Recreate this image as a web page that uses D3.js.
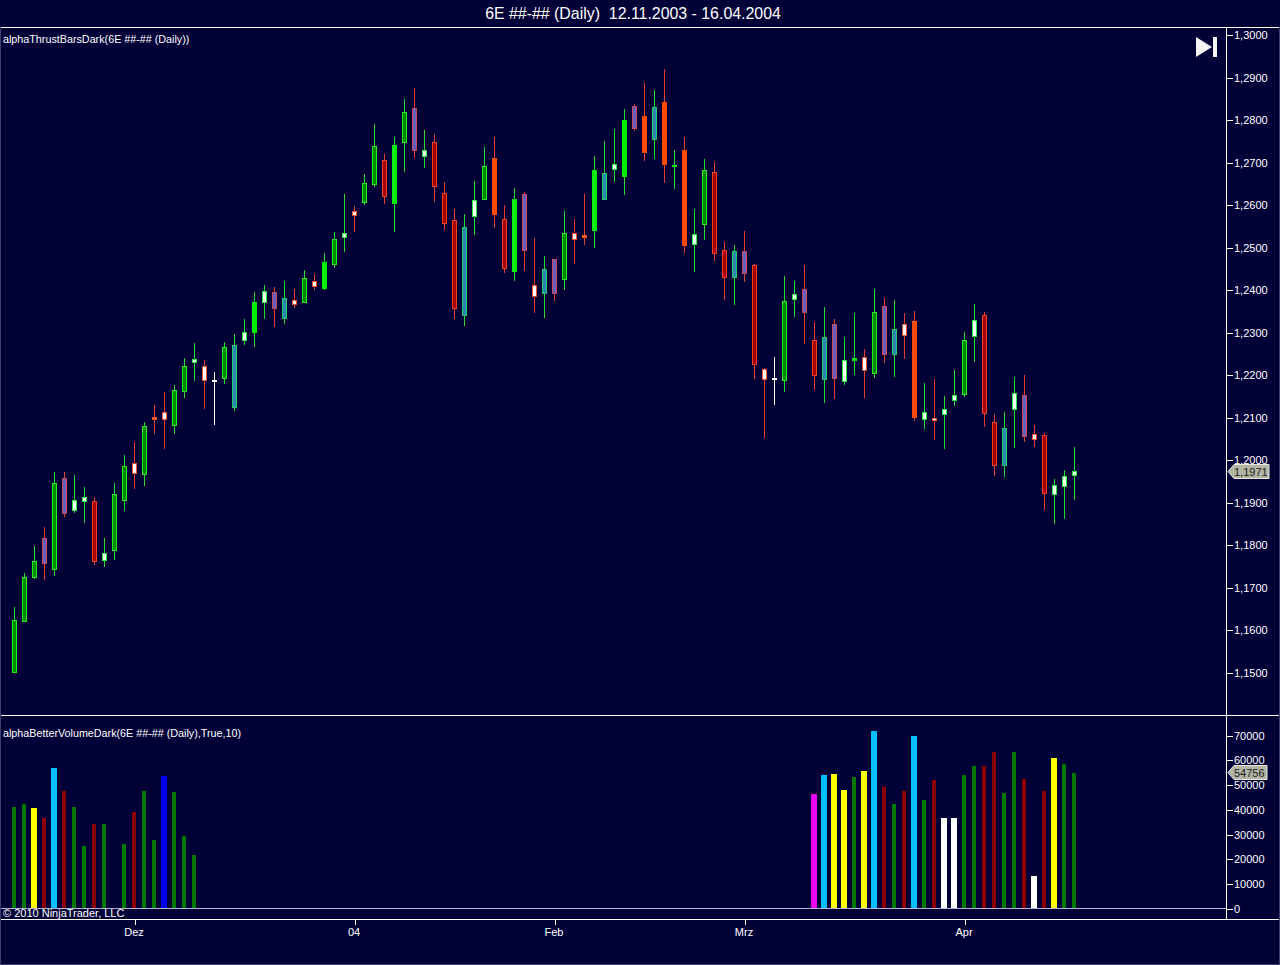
<!DOCTYPE html>
<html><head><meta charset="utf-8">
<script src="https://cdn.jsdelivr.net/npm/d3@7/dist/d3.min.js"></script>
<style>html,body{margin:0;padding:0;background:#000036;overflow:hidden}svg{display:block}text{font-family:"Liberation Sans",Arial,sans-serif}</style>
</head><body><svg id="c" width="1280" height="965"></svg>
<script>
const chartTitle = "6E ##-## (Daily)  12.11.2003 - 16.04.2004";
const priceLabel = "alphaThrustBarsDark(6E ##-## (Daily))";
const volumeLabel = "alphaBetterVolumeDark(6E ##-## (Daily),True,10)";
const copyrightText = "© 2010 NinjaTrader, LLC";
const monthTickIndex = [12,34,54,73,95];
const monthTickLabels = ["Dez","04","Feb","Mrz","Apr"];
const priceTicks = [1.15,1.16,1.17,1.18,1.19,1.20,1.21,1.22,1.23,1.24,1.25,1.26,1.27,1.28,1.29,1.30];
const volumeTicks = [0,10000,20000,30000,40000,50000,60000,70000];
const lastPrice = 1.1971;
const lastVolume = 54756;

const highs = [1.1654,1.1734,1.1798,1.1842,1.1972,1.1972,1.1965,1.1937,1.1913,1.1817,1.1946,1.2012,1.2042,1.2089,1.2129,1.2160,1.2177,1.2240,1.2275,1.2235,1.2207,1.2278,1.2297,1.2332,1.2395,1.2412,1.2407,1.2421,1.2402,1.2447,1.2438,1.2487,1.2536,1.2626,1.2598,1.2673,1.2791,1.2720,1.2760,1.2849,1.2875,1.2776,1.2767,1.2654,1.2591,1.2579,1.2656,1.2737,1.2760,1.2600,1.2640,1.2631,1.2522,1.2480,1.2473,1.2586,1.2567,1.2626,1.2715,1.2751,1.2779,1.2826,1.2838,1.2887,1.2871,1.2920,1.2729,1.2760,1.2591,1.2708,1.2701,1.2513,1.2506,1.2539,1.2461,1.2217,1.2242,1.2433,1.2421,1.2459,1.2325,1.2360,1.2332,1.2289,1.2346,1.2261,1.2402,1.2381,1.2377,1.2346,1.2351,1.2181,1.2191,1.2151,1.2212,1.2301,1.2367,1.2348,1.2108,1.2113,1.2195,1.2200,1.2082,1.2064,1.1955,1.1976,1.2031];
const bodyTops = [1.1624,1.1725,1.1762,1.1817,1.1946,1.1958,1.1906,1.1913,1.1904,1.1781,1.1920,1.1986,1.1993,1.2080,1.2101,1.2113,1.2165,1.2221,1.2238,1.2221,1.2189,1.2266,1.2271,1.2301,1.2372,1.2398,1.2395,1.2381,1.2377,1.2428,1.2421,1.2466,1.2520,1.2534,1.2586,1.2652,1.2739,1.2706,1.2741,1.2819,1.2828,1.2729,1.2748,1.2628,1.2565,1.2548,1.2612,1.2692,1.2711,1.2567,1.2614,1.2626,1.2412,1.2449,1.2473,1.2534,1.2534,1.2529,1.2682,1.2675,1.2697,1.2800,1.2833,1.2810,1.2831,1.2842,1.2694,1.2729,1.2532,1.2682,1.2678,1.2494,1.2492,1.2492,1.2459,1.2214,1.2192,1.2374,1.2391,1.2402,1.2282,1.2289,1.2320,1.2235,1.2240,1.2242,1.2348,1.2362,1.2308,1.2320,1.2327,1.2113,1.2099,1.2120,1.2153,1.2282,1.2329,1.2341,1.2089,1.2075,1.2158,1.2153,1.2061,1.2059,1.1941,1.1962,1.1974];
const bodyBottoms = [1.1501,1.1621,1.1725,1.1758,1.1744,1.1875,1.1882,1.1904,1.1762,1.1765,1.1788,1.1906,1.1969,1.1967,1.2097,1.2097,1.2082,1.2162,1.2231,1.2188,1.2187,1.2193,1.2125,1.2282,1.2301,1.2372,1.2358,1.2334,1.2367,1.2372,1.2409,1.2405,1.2461,1.2525,1.2576,1.2607,1.2649,1.2621,1.2605,1.2748,1.2729,1.2715,1.2645,1.2558,1.2358,1.2341,1.2574,1.2614,1.2579,1.2452,1.2445,1.2494,1.2386,1.2393,1.2393,1.2426,1.2520,1.2525,1.2541,1.2614,1.2685,1.2668,1.2781,1.2725,1.2755,1.2697,1.2692,1.2506,1.2508,1.2555,1.2487,1.2431,1.2431,1.2440,1.2226,1.2191,1.2190,1.2188,1.2379,1.2348,1.2200,1.2191,1.2193,1.2186,1.2235,1.2212,1.2205,1.2249,1.2249,1.2294,1.2101,1.2097,1.2094,1.2108,1.2141,1.2155,1.2292,1.2111,1.1988,1.1988,1.2120,1.2057,1.2049,1.1922,1.1920,1.1939,1.1965];
const lows = [1.1499,1.1621,1.1720,1.1718,1.1727,1.1866,1.1875,1.1852,1.1753,1.1748,1.1765,1.1880,1.1932,1.1939,1.2061,1.2026,1.2061,1.2146,1.2186,1.2120,1.2082,1.2179,1.2115,1.2271,1.2266,1.2332,1.2313,1.2320,1.2358,1.2372,1.2400,1.2400,1.2452,1.2489,1.2536,1.2600,1.2642,1.2602,1.2536,1.2678,1.2711,1.2687,1.2607,1.2541,1.2332,1.2315,1.2529,1.2614,1.2546,1.2440,1.2421,1.2445,1.2346,1.2334,1.2374,1.2400,1.2461,1.2506,1.2499,1.2612,1.2654,1.2624,1.2774,1.2704,1.2708,1.2652,1.2638,1.2487,1.2442,1.2518,1.2468,1.2377,1.2365,1.2419,1.2191,1.2052,1.2129,1.2160,1.2336,1.2273,1.2165,1.2134,1.2144,1.2177,1.2200,1.2146,1.2193,1.2228,1.2195,1.2238,1.2092,1.2073,1.2047,1.2026,1.2127,1.2148,1.2231,1.2078,1.1962,1.1960,1.2028,1.2042,1.2031,1.1882,1.1849,1.1861,1.1906];
const candleKinds = ["g","g","g","p","g","p","w","w","r","w","g","g","x","g","y","x","g","g","w","x","d","g","t","w","G","w","p","t","x","g","x","G","g","w","x","g","g","r","G","g","p","w","r","r","r","t","w","g","O","r","G","p","x","t","p","g","x","y","G","t","w","G","p","O","t","O","G","O","w","g","r","r","t","p","r","x","d","g","w","p","r","t","p","w","G","x","g","p","t","x","O","w","x","w","w","g","w","r","r","t","w","p","x","r","w","w","w"];

const earlyVolumeBars = [0,1,2,3,4,5,6,7,8,9,11,12,13,14,15,16,17,18];
const earlyVolumes = [41100,42300,40700,36700,56800,47600,41100,25400,34300,34300,26200,39100,47600,27800,53600,47200,29400,21800];
const earlyVolumeKinds = ["g","g","y","r","c","r","g","g","r","g","g","r","g","g","b","g","g","g"];
const lateVolumeFirstBar = 80;
const lateVolumes = [46300,54000,54400,48000,53200,55600,71700,49200,42300,47600,69700,43900,52000,36700,36700,54000,57600,57600,63300,46700,63300,52400,13300,47600,60900,58400,54756];
const lateVolumeKinds = ["m","c","y","y","g","y","c","r","g","r","c","g","r","w","w","g","g","r","r","g","g","r","w","r","y","g","g"];

const candleStyle = {
 g:{fill:"#008800",stroke:"#22ee22",wick:"#22dd33"},
 G:{fill:"#00ee00",stroke:"#00ee00",wick:"#22dd33"},
 w:{fill:"#f4fff4",stroke:"#22ee44",wick:"#22dd33"},
 t:{fill:"#2c86b4",stroke:"#22cc66",wick:"#22dd33"},
 r:{fill:"#a80000",stroke:"#f04020",wick:"#e04030"},
 O:{fill:"#ff4a00",stroke:"#ff4a00",wick:"#e04030"},
 y:{fill:"#ff6020",stroke:"#ff5020",wick:"#e04030"},
 x:{fill:"#fff8f4",stroke:"#f05030",wick:"#e04030"},
 p:{fill:"#6460c0",stroke:"#c84858",wick:"#e04030"},
 d:{fill:"#ffffff",stroke:"#ffffff",wick:"#ffffff"}
};
const volumeStyle = {
 g:{fill:"#007a00",wide:false}, r:{fill:"#8b0000",wide:false}, y:{fill:"#ffff00",wide:true},
 c:{fill:"#00bfff",wide:true}, b:{fill:"#0000ee",wide:true}, m:{fill:"#ee00ee",wide:true}, w:{fill:"#ffffff",wide:true}
};

const svg = d3.select("#c");
const bg = "#000036";
svg.append("rect").attr("width",1280).attr("height",965).attr("fill",bg);

const x = d3.scaleLinear().domain([0,106]).range([14.5,1074.5]);
const y = d3.scaleLinear().domain([1.15,1.30]).range([672.5,35]);
const v = d3.scaleLinear().domain([0,70000]).range([909,735.5]);
const snap = n => Math.round(n)+0.5;

// frame
const frame = svg.append("g").attr("shape-rendering","crispEdges").attr("stroke","#fff").attr("fill","none");
[[0,27.5,1280,27.5],[0,715.5,1280,715.5],[0,919.5,1280,919.5],[1226.5,27.5,1226.5,919.5]].forEach(l=>
  frame.append("line").attr("x1",l[0]).attr("y1",l[1]).attr("x2",l[2]).attr("y2",l[3]));
frame.append("line").attr("x1",0).attr("y1",908.5).attr("x2",1226).attr("y2",908.5).attr("stroke","#b0b0d0");
[[0.5,27,0.5,964.5],[1279.5,27,1279.5,964.5],[0,964.5,1280,964.5]].forEach(l=>
  frame.append("line").attr("x1",l[0]).attr("y1",l[1]).attr("x2",l[2]).attr("y2",l[3]).attr("stroke","#404070"));

// text
svg.append("text").attr("x",633).attr("y",18.5).attr("text-anchor","middle").attr("fill","#fff").attr("font-size",15.9).style("white-space","pre").text(chartTitle);
svg.append("text").attr("x",3).attr("y",43).attr("fill","#fff").attr("font-size",10.75).text(priceLabel);
svg.append("text").attr("x",3).attr("y",737).attr("fill","#fff").attr("font-size",10.75).text(volumeLabel);
svg.append("text").attr("x",3).attr("y",917).attr("fill","#fff").attr("font-size",11).text(copyrightText);

// icon
const icon = svg.append("g").attr("fill","#f4f4f4");
icon.append("path").attr("d",d3.line()([[1196,37],[1212,47],[1196,57]])+"Z");
icon.append("rect").attr("x",1213).attr("y",37).attr("width",4).attr("height",20);

// axes
function styleAxis(g,size){
  g.select(".domain").remove();
  g.selectAll("line").attr("stroke","#fff").attr("shape-rendering","crispEdges");
  g.selectAll("text").attr("fill","#fff").attr("font-size",size).attr("font-family",'"Liberation Sans",Arial,sans-serif');
}
const yAxis = d3.axisRight(y).tickValues(priceTicks).tickSize(6).tickPadding(1).tickFormat(d=>d3.format(".4f")(d).replace(".",","));
svg.append("g").attr("transform","translate(1227,0)").call(yAxis).call(styleAxis,11);
const vAxis = d3.axisRight(v).tickValues(volumeTicks).tickSize(6).tickPadding(1).tickFormat(d3.format("d"));
svg.append("g").attr("transform","translate(1227,0)").call(vAxis).call(styleAxis,11);
const xAxis = d3.axisBottom(x).tickValues(monthTickIndex).tickSize(5).tickPadding(3).tickFormat((d,i)=>monthTickLabels[i]);
const xg = svg.append("g").attr("transform","translate(0,920)").call(xAxis).call(styleAxis,11);
xg.selectAll("text").attr("dx",-1);

// candles
const idx = d3.range(highs.length);
const cg = svg.append("g").attr("shape-rendering","crispEdges");
cg.selectAll("line.wick").data(idx).join("line").attr("class","wick")
  .attr("x1",i=>x(i)).attr("x2",i=>x(i)).attr("y1",i=>Math.round(y(highs[i]))).attr("y2",i=>Math.round(y(lows[i])))
  .attr("stroke",i=>candleStyle[candleKinds[i]].wick);
cg.selectAll("rect.body").data(idx).join("rect").attr("class","body")
  .attr("x",i=>x(i)-2).attr("width",4)
  .attr("y",i=>snap(y(bodyTops[i])))
  .attr("height",i=>Math.max(candleKinds[i]==="d"?0:1,Math.round(y(bodyBottoms[i])-y(bodyTops[i]))))
  .attr("fill",i=>candleStyle[candleKinds[i]].fill)
  .attr("stroke",i=>candleStyle[candleKinds[i]].stroke);

// volume bars
const volumeRows = earlyVolumeBars.map((bar,k)=>({bar,value:earlyVolumes[k],kind:earlyVolumeKinds[k]}))
  .concat(lateVolumes.map((value,k)=>({bar:lateVolumeFirstBar+k,value,kind:lateVolumeKinds[k]})));
svg.append("g").attr("shape-rendering","crispEdges").selectAll("rect").data(volumeRows).join("rect")
  .attr("x",d=>volumeStyle[d.kind].wide?x(d.bar)-3.5:x(d.bar)-2.5)
  .attr("width",d=>volumeStyle[d.kind].wide?6:4)
  .attr("y",d=>Math.round(v(d.value)))
  .attr("height",d=>908-Math.round(v(d.value)))
  .attr("fill",d=>volumeStyle[d.kind].fill);

// value tags
function tag(yPos,label,w){
  const h=7;
  const g=svg.append("g");
  g.append("path").attr("d",d3.line()([[1228,yPos],[1234,yPos-h],[1228+w,yPos-h],[1228+w,yPos+h],[1234,yPos+h]])+"Z")
    .attr("fill","#b4b4a4").attr("stroke","#e8e8e0").attr("stroke-width",1);
  g.append("text").attr("x",1234).attr("y",yPos+4).attr("fill","#202020").attr("font-size",11).text(label);
}
tag(Math.round(y(lastPrice))-0.5,d3.format(".4f")(lastPrice).replace(".",","),41);
tag(Math.round(v(lastVolume))-0.5,String(lastVolume),39);
</script></body></html>
